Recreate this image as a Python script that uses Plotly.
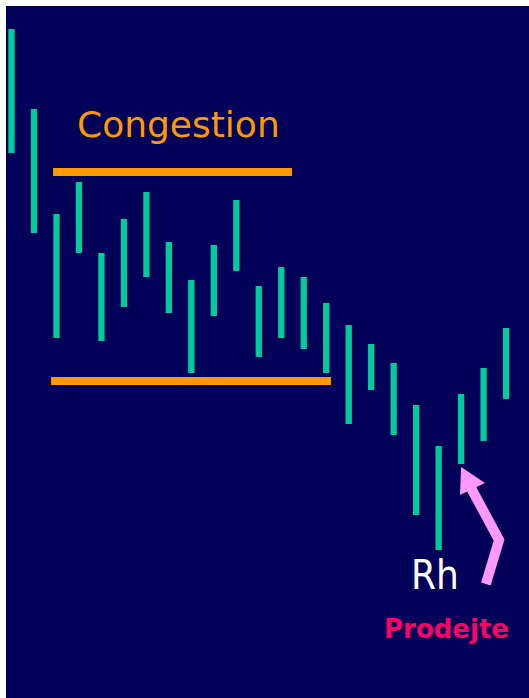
import plotly.graph_objects as go

# price bars (high / low), one per session
session = list(range(23))
highs = [66.9, 58.9, 48.4, 51.6, 44.5, 47.9, 50.6, 45.6, 41.8, 45.3, 49.8, 41.2,
         43.1, 42.1, 39.5, 37.3, 35.4, 33.5, 29.3, 25.2, 30.4, 33.0, 37.0]
lows = [54.5, 46.5, 36.0, 44.5, 35.7, 39.1, 42.1, 38.5, 32.5, 38.2, 42.7, 34.1,
        36.0, 34.9, 32.5, 27.4, 30.8, 26.3, 18.3, 14.8, 23.4, 25.7, 29.9]

# congestion band
congestion_top = 52.6
congestion_bottom = 31.7

NAVY = "#000059"
GREEN = "#00cc99"
ORANGE = "#ff9900"
PINK = "#ff99ff"
MAGENTA = "#ff0066"

fig = go.Figure()

fig.add_trace(go.Bar(
    x=session,
    y=[h - l for h, l in zip(highs, lows)],
    base=lows,
    width=0.28,
    marker=dict(color=GREEN, line=dict(width=0)),
    hoverinfo="skip",
))

# bent arrow shaft pointing at the reversal bar
fig.add_trace(go.Scatter(
    x=[21.1, 21.69, 20.44],
    y=[11.4, 15.8, 21.0],
    mode="lines",
    line=dict(color=PINK, width=10),
    hoverinfo="skip",
))

shapes = [
    dict(type="rect", x0=1.85, x1=12.48, y0=congestion_top - 0.4, y1=congestion_top + 0.4,
         fillcolor=ORANGE, line=dict(width=0)),
    dict(type="rect", x0=1.76, x1=14.21, y0=congestion_bottom - 0.4, y1=congestion_bottom + 0.4,
         fillcolor=ORANGE, line=dict(width=0)),
    # arrow head
    dict(type="path", path="M 20.0 23.1 L 19.95 20.3 L 21.06 21.5 Z",
         fillcolor=PINK, line=dict(width=0)),
]

annotations = [
    dict(x=7.45, y=57.35, text="Congestion", showarrow=False,
         font=dict(family="DejaVu Sans", size=36, color=ORANGE)),
    dict(x=18.84, y=12.3, text="Rh", showarrow=False,
         font=dict(family="DejaVu Sans Condensed, Liberation Sans Narrow, Liberation Sans",
                   size=40, color="white")),
    dict(x=19.33, y=6.9, text="<b>Prodejte</b>", showarrow=False,
         font=dict(family="DejaVu Sans", size=26, color=MAGENTA)),
]

fig.update_layout(
    width=529,
    height=698,
    margin=dict(l=6, r=0, t=6, b=0, pad=0),
    paper_bgcolor="white",
    plot_bgcolor=NAVY,
    showlegend=False,
    shapes=shapes,
    annotations=annotations,
    xaxis=dict(range=[-0.245, 23.02], visible=False, fixedrange=True),
    yaxis=dict(range=[0, 69.2], visible=False, fixedrange=True),
)

fig.write_html("out.html", config={"displayModeBar": False},
               post_script="document.body.style.margin = '0';")
